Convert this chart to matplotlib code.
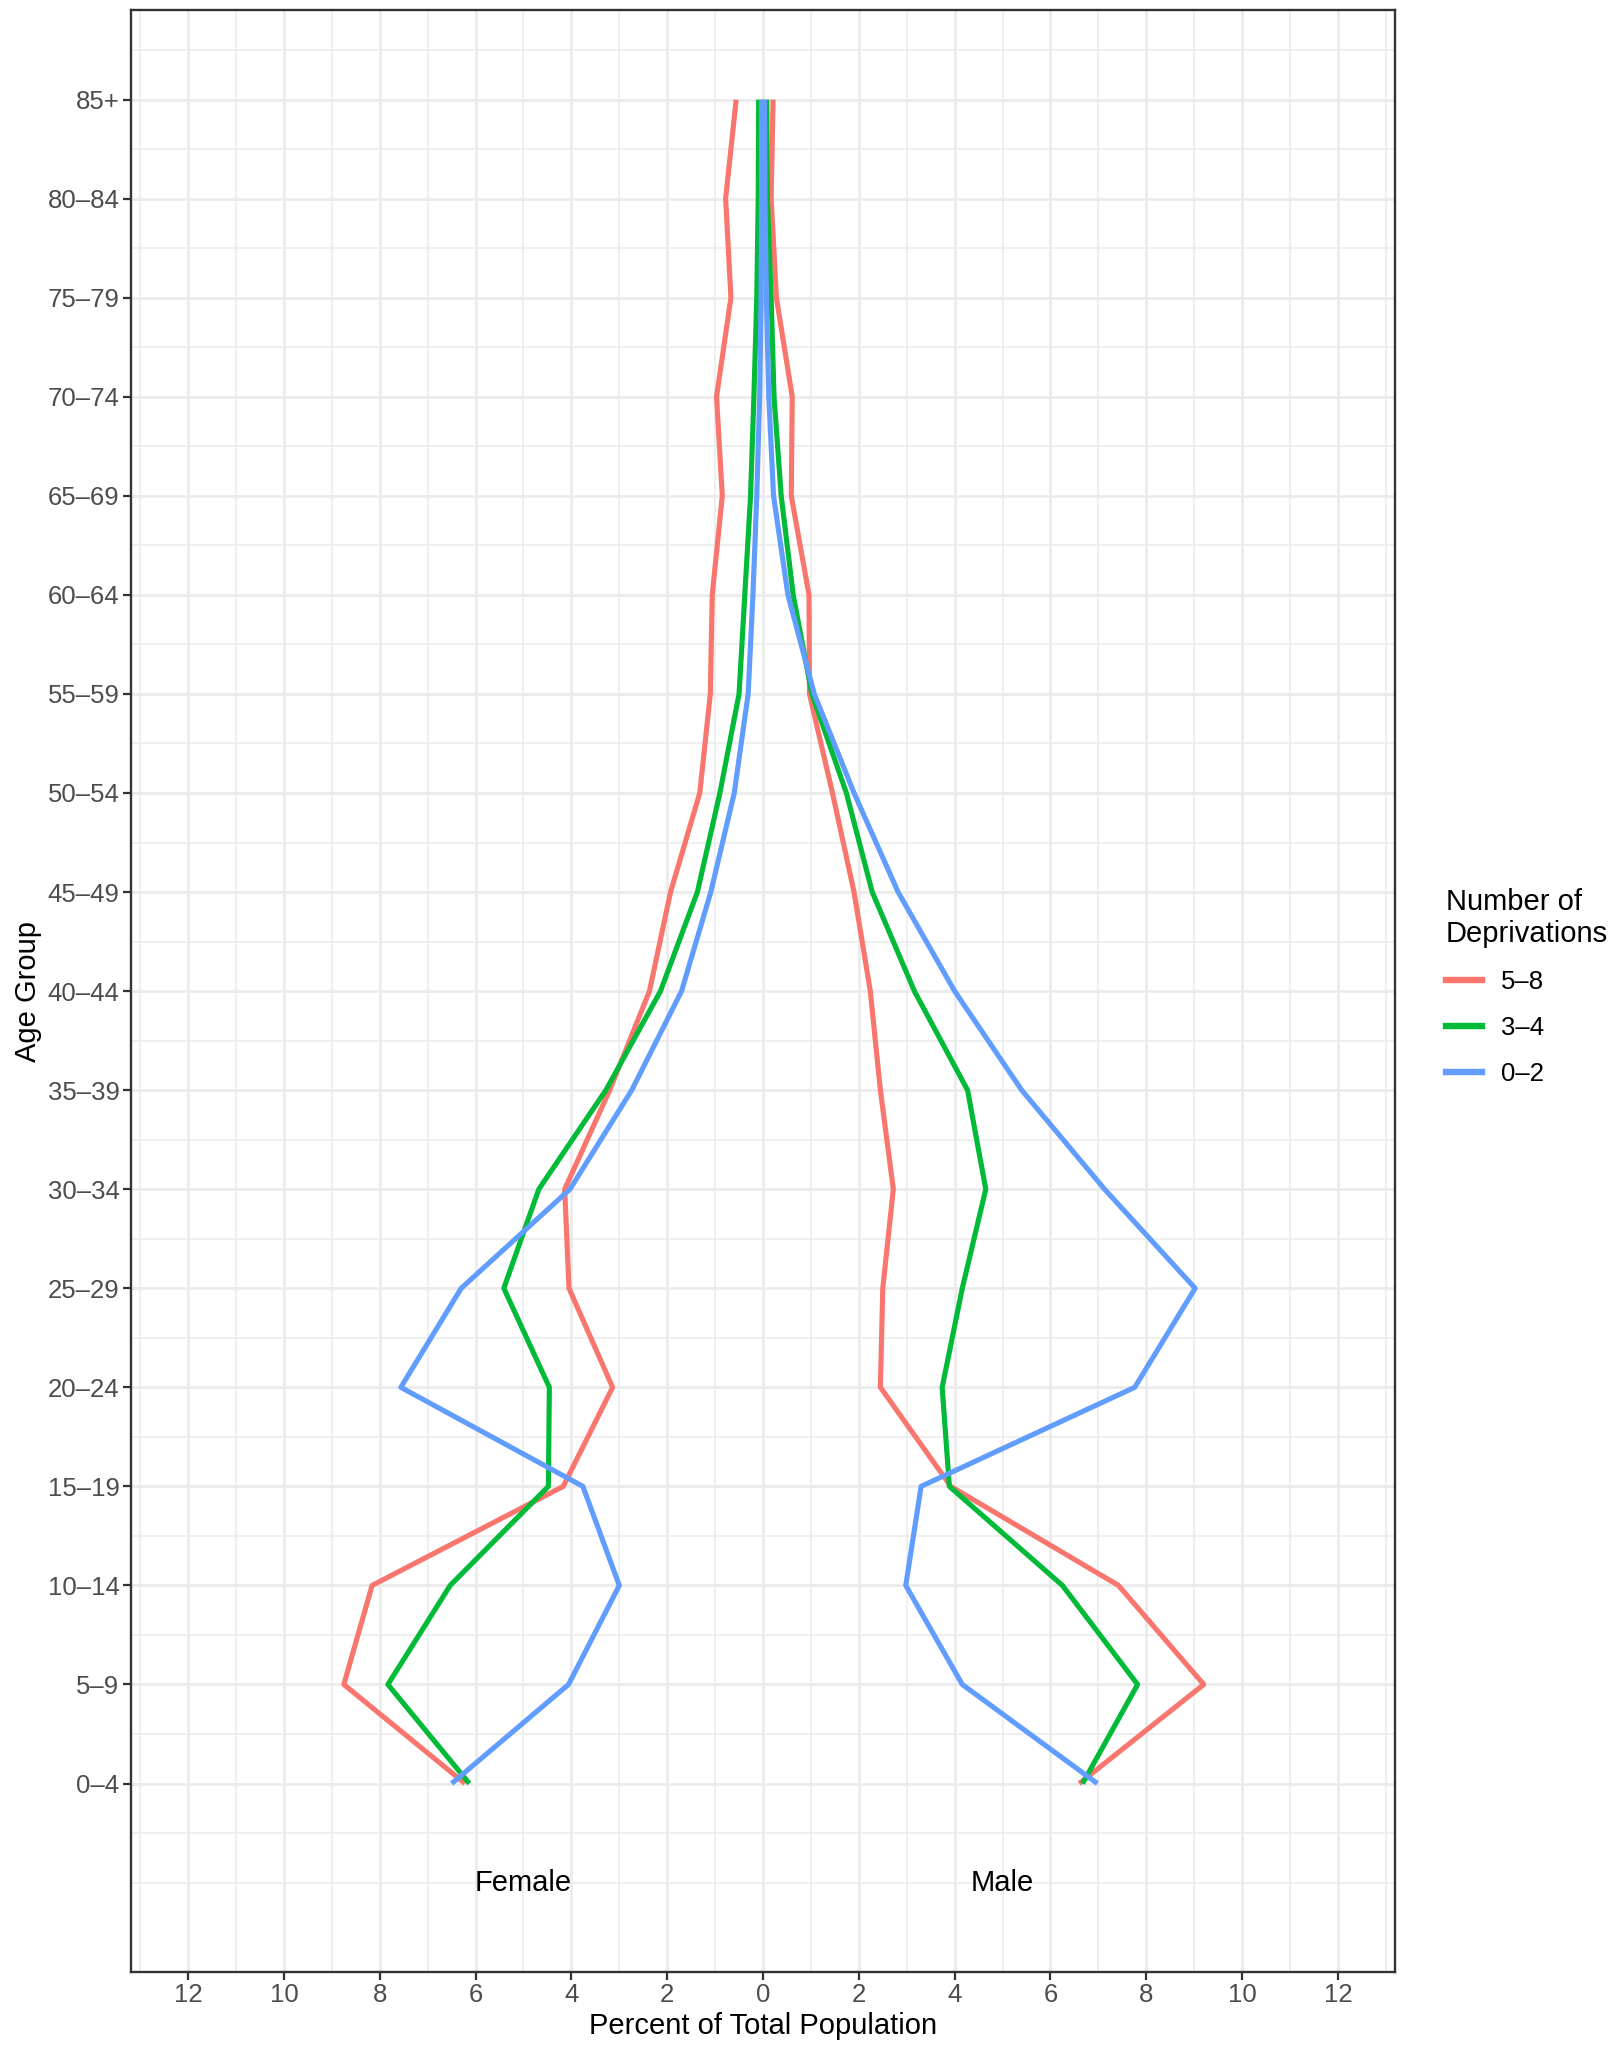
import matplotlib
matplotlib.use("Agg")
import matplotlib.pyplot as plt
from matplotlib.lines import Line2D
from matplotlib.ticker import FixedLocator, FuncFormatter

plt.rcParams['font.family'] = ['Liberation Sans', 'DejaVu Sans']

age_groups = ["0–4", "5–9", "10–14", "15–19", "20–24", "25–29", "30–34", "35–39",
              "40–44", "45–49", "50–54", "55–59", "60–64", "65–69", "70–74",
              "75–79", "80–84", "85+"]

groups = ["5–8", "3–4", "0–2"]
colors = ["#F8766D", "#00BA38", "#619CFF"]

# percent of total population, youngest to oldest
female_5_8 = [6.22, 8.75, 8.16, 4.17, 3.14, 4.05, 4.14, 3.20, 2.37, 1.93, 1.32,
              1.10, 1.06, 0.85, 0.97, 0.67, 0.78, 0.56]
female_3_4 = [6.13, 7.83, 6.53, 4.48, 4.46, 5.41, 4.68, 3.28, 2.14, 1.37, 0.90,
              0.50, 0.38, 0.26, 0.19, 0.13, 0.10, 0.09]
female_0_2 = [6.50, 4.06, 3.00, 3.76, 7.56, 6.30, 4.03, 2.74, 1.70, 1.09, 0.60,
              0.31, 0.21, 0.13, 0.07, 0.04, 0.03, 0.03]

male_5_8 = [6.60, 9.20, 7.42, 3.92, 2.45, 2.50, 2.72, 2.45, 2.24, 1.90, 1.45,
            0.97, 0.96, 0.59, 0.61, 0.28, 0.17, 0.21]
male_3_4 = [6.67, 7.82, 6.25, 3.89, 3.74, 4.16, 4.65, 4.27, 3.16, 2.28, 1.74,
            1.02, 0.63, 0.38, 0.23, 0.17, 0.09, 0.08]
male_0_2 = [6.98, 4.16, 2.98, 3.30, 7.76, 9.02, 7.13, 5.40, 4.00, 2.82, 1.90,
            1.07, 0.52, 0.22, 0.12, 0.07, 0.04, 0.03]

female = [female_5_8, female_3_4, female_0_2]
male = [male_5_8, male_3_4, male_0_2]

y = list(range(1, len(age_groups) + 1))

fig = plt.figure(figsize=(16.15, 20.49), dpi=100)
ax = fig.add_axes([0.0809, 0.0377, 0.864 - 0.0809, 0.9949 - 0.0377])

for f, m, c in zip(female, male, colors):
    ax.plot([-v for v in f], y, color=c, lw=3.7, solid_joinstyle='round',
            solid_capstyle='butt', zorder=3)
    ax.plot(m, y, color=c, lw=3.7, solid_joinstyle='round',
            solid_capstyle='butt', zorder=3)

ax.text(-5, 0, "Female", ha='center', va='center', fontsize=21)
ax.text(5, 0, "Male", ha='center', va='center', fontsize=21)

ax.set_xlim(-13.2, 13.2)
ax.set_ylim(-0.9, 18.9)

ax.xaxis.set_major_locator(FixedLocator(range(-12, 13, 2)))
ax.xaxis.set_minor_locator(FixedLocator(range(-13, 14, 2)))
ax.xaxis.set_major_formatter(FuncFormatter(lambda v, p: f"{abs(int(round(v)))}"))
ax.yaxis.set_major_locator(FixedLocator(y))
ax.set_yticklabels(age_groups)
ax.yaxis.set_minor_locator(FixedLocator([0] + [k + 0.5 for k in range(0, 19)]))

ax.grid(which='major', color='#EBEBEB', lw=2.0, zorder=0)
ax.grid(which='minor', color='#EBEBEB', lw=1.1, zorder=0)
ax.set_axisbelow(True)

ax.tick_params(which='major', length=5.5, width=1.6, color='#333333',
               labelcolor='#4D4D4D', labelsize=18.5, pad=2.5)
ax.tick_params(which='minor', length=0)
for s in ax.spines.values():
    s.set_color('#333333')
    s.set_linewidth(1.7)

ax.set_xlabel("Percent of Total Population", fontsize=21, labelpad=4)
ax.set_ylabel("Age Group", fontsize=21, labelpad=4)

handles = [Line2D([], [], color=c, lw=4.6) for c in colors]
leg = fig.legend(handles, groups, title="Number of\nDeprivations",
                 loc='upper left', bbox_to_anchor=(0.881, 0.578),
                 frameon=False, fontsize=18.5, title_fontsize=21,
                 handlelength=1.4, labelspacing=0.85, handletextpad=0.75,
                 alignment='left')

fig.savefig("out.png", dpi=100, facecolor='white')
